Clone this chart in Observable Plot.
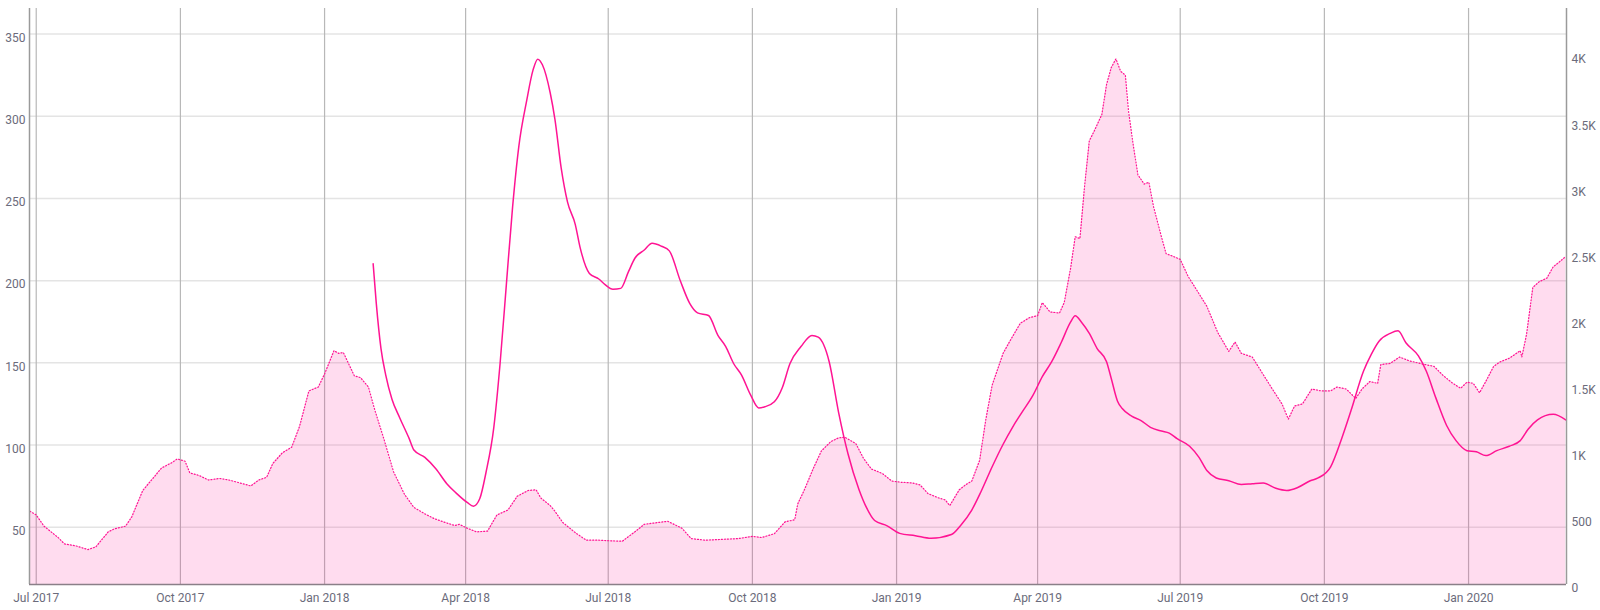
<!DOCTYPE html>
<html>
<head>
<meta charset="utf-8">
<script src="https://cdn.jsdelivr.net/npm/d3@7"></script>
<script src="https://cdn.jsdelivr.net/npm/@observablehq/plot@0.6"></script>
<style>
  html, body { margin: 0; padding: 0; background: #fff; }
  #chart svg { display: block; font-family: Roboto, "Noto Sans", sans-serif; }
</style>
</head>
<body>
<div id="chart"></div>
<script>
// Area series (right axis)
const areaDates = ["2017-06-27","2017-07-01","2017-07-06","2017-07-15","2017-07-19","2017-07-26","2017-08-03","2017-08-08","2017-08-16","2017-08-20","2017-08-27","2017-08-31","2017-09-07","2017-09-13","2017-09-19","2017-09-26","2017-09-29","2017-10-04","2017-10-07","2017-10-13","2017-10-19","2017-10-26","2017-11-01","2017-11-08","2017-11-15","2017-11-20","2017-11-25","2017-11-29","2017-12-05","2017-12-11","2017-12-16","2017-12-22","2017-12-28","2018-01-01","2018-01-07","2018-01-10","2018-01-13","2018-01-20","2018-01-24","2018-01-29","2018-02-02","2018-02-08","2018-02-14","2018-02-21","2018-02-27","2018-03-06","2018-03-12","2018-03-19","2018-03-25","2018-03-28","2018-04-02","2018-04-08","2018-04-15","2018-04-21","2018-04-28","2018-05-04","2018-05-11","2018-05-16","2018-05-19","2018-05-25","2018-05-28","2018-06-02","2018-06-10","2018-06-17","2018-06-25","2018-07-03","2018-07-10","2018-07-18","2018-07-24","2018-08-02","2018-08-08","2018-08-17","2018-08-23","2018-09-01","2018-09-11","2018-09-22","2018-10-01","2018-10-07","2018-10-15","2018-10-22","2018-10-28","2018-10-30","2018-11-03","2018-11-09","2018-11-14","2018-11-20","2018-11-25","2018-11-29","2018-12-06","2018-12-11","2018-12-16","2018-12-23","2018-12-29","2019-01-04","2019-01-11","2019-01-16","2019-01-21","2019-01-28","2019-02-01","2019-02-04","2019-02-10","2019-02-14","2019-02-18","2019-02-23","2019-02-27","2019-03-03","2019-03-10","2019-03-14","2019-03-21","2019-03-27","2019-04-01","2019-04-04","2019-04-09","2019-04-15","2019-04-18","2019-04-22","2019-04-25","2019-04-28","2019-05-01","2019-05-04","2019-05-07","2019-05-12","2019-05-15","2019-05-18","2019-05-21","2019-05-24","2019-05-27","2019-05-29","2019-06-01","2019-06-04","2019-06-08","2019-06-11","2019-06-14","2019-06-19","2019-06-22","2019-06-27","2019-07-01","2019-07-06","2019-07-12","2019-07-18","2019-07-25","2019-08-01","2019-08-05","2019-08-09","2019-08-16","2019-08-22","2019-08-28","2019-09-04","2019-09-08","2019-09-12","2019-09-17","2019-09-23","2019-09-29","2019-10-05","2019-10-09","2019-10-15","2019-10-21","2019-10-25","2019-10-30","2019-11-04","2019-11-06","2019-11-12","2019-11-18","2019-11-24","2019-12-01","2019-12-10","2019-12-16","2019-12-22","2019-12-27","2019-12-31","2020-01-04","2020-01-08","2020-01-12","2020-01-17","2020-01-21","2020-01-27","2020-02-03","2020-02-04","2020-02-07","2020-02-11","2020-02-15","2020-02-20","2020-02-24","2020-02-27","2020-03-03"];
const areaValues = [554,526,441,355,307,293,264,284,398,421,441,512,711,796,881,924,950,932,844,824,790,802,790,768,745,790,810,915,995,1038,1194,1464,1493,1592,1768,1748,1754,1578,1564,1493,1322,1095,853,682,583,534,498,469,446,455,426,398,404,526,563,668,711,716,654,597,554,469,392,335,335,330,327,398,455,469,478,426,347,335,341,347,364,355,384,475,489,611,711,881,1009,1080,1109,1114,1066,952,873,839,782,773,768,753,688,654,640,597,716,753,782,938,1251,1507,1748,1834,1976,2019,2033,2132,2061,2053,2132,2388,2630,2616,3014,3355,3426,3554,3781,3909,3975,3881,3852,3582,3326,3099,3028,3042,2857,2630,2502,2479,2459,2331,2218,2104,1905,1763,1834,1748,1720,1606,1493,1365,1251,1350,1365,1478,1464,1464,1493,1478,1407,1478,1535,1521,1663,1672,1720,1692,1672,1649,1578,1521,1484,1530,1521,1450,1535,1649,1683,1711,1768,1720,1891,2246,2289,2317,2402,2430,2480];

// Line series (left axis)
const lineDates = ["2018-02-01","2018-02-03","2018-02-06","2018-02-09","2018-02-13","2018-02-18","2018-02-24","2018-02-27","2018-03-06","2018-03-13","2018-03-20","2018-03-26","2018-04-02","2018-04-06","2018-04-10","2018-04-14","2018-04-19","2018-04-23","2018-04-27","2018-05-01","2018-05-05","2018-05-10","2018-05-14","2018-05-17","2018-05-20","2018-05-25","2018-05-28","2018-06-01","2018-06-05","2018-06-10","2018-06-13","2018-06-19","2018-06-25","2018-06-29","2018-07-04","2018-07-09","2018-07-14","2018-07-18","2018-07-24","2018-07-29","2018-08-04","2018-08-09","2018-08-16","2018-08-22","2018-08-27","2018-09-03","2018-09-09","2018-09-14","2018-09-19","2018-09-24","2018-09-30","2018-10-05","2018-10-09","2018-10-15","2018-10-20","2018-10-25","2018-11-01","2018-11-08","2018-11-12","2018-11-19","2018-11-25","2018-12-01","2018-12-08","2018-12-13","2018-12-18","2018-12-26","2019-01-03","2019-01-13","2019-01-23","2019-02-05","2019-02-11","2019-02-18","2019-02-24","2019-03-03","2019-03-10","2019-03-16","2019-03-22","2019-03-29","2019-04-04","2019-04-10","2019-04-16","2019-04-22","2019-04-25","2019-04-29","2019-05-04","2019-05-09","2019-05-15","2019-05-18","2019-05-22","2019-05-25","2019-05-31","2019-06-06","2019-06-12","2019-06-19","2019-06-24","2019-06-29","2019-07-07","2019-07-13","2019-07-18","2019-07-24","2019-08-01","2019-08-09","2019-08-16","2019-08-23","2019-08-31","2019-09-07","2019-09-14","2019-09-22","2019-09-27","2019-10-05","2019-10-12","2019-10-18","2019-10-26","2019-10-31","2019-11-05","2019-11-12","2019-11-17","2019-11-22","2019-11-30","2019-12-05","2019-12-11","2019-12-18","2019-12-24","2019-12-31","2020-01-06","2020-01-12","2020-01-19","2020-01-27","2020-02-03","2020-02-08","2020-02-14","2020-02-24","2020-03-03"];
const lineValues = [210.2,186.2,158.7,142.7,127.9,116.5,103.9,97.0,92.5,85.6,76.5,70.8,65.1,62.8,67.3,83.3,110.8,149.6,197.6,245.0,282.0,309.6,328.0,334.7,331.3,314.1,298.1,268.4,247.9,234.1,220.4,204.4,201.0,197.6,194.8,195.3,205.6,213.6,218.6,222.7,220.9,218.1,199.9,186.2,180.4,178.8,166.7,159.9,149.6,142.7,130.2,122.6,123.3,126.3,134.7,149.6,159.9,166.7,165.6,150.7,119.9,94.7,73.0,61.6,54.1,50.9,46.3,44.9,43.3,45.6,51.3,60.5,71.9,86.8,100.5,110.8,119.9,130.2,141.6,150.7,162.2,174.7,178.6,174.7,167.9,158.7,150.7,140.5,126.7,122.2,117.6,114.9,110.8,108.5,107.3,103.9,99.3,92.5,84.5,80.0,78.3,76.0,76.5,76.9,73.7,72.4,74.2,78.3,80.0,86.8,103.9,121.0,145.0,155.3,163.3,167.9,169.5,162.2,154.2,145.0,129.0,111.9,102.7,96.6,95.9,93.6,96.6,99.3,102.7,109.6,115.3,118.7,115.3];

const leftTicks = [50, 100, 150, 200, 250, 300, 350];
const rightTicks = [0, 500, 1000, 1500, 2000, 2500, 3000, 3500, 4000];
const rightLabels = ["0", "500", "1K", "1.5K", "2K", "2.5K", "3K", "3.5K", "4K"];

const leftDomain = [15.2, 365.5];
const rightDomain = [0, 4356];
const toLeft = d3.scaleLinear().domain(rightDomain).range(leftDomain);

const parse = d3.utcParse("%Y-%m-%d");
const areaData = areaDates.map((d, i) => ({date: parse(d), value: areaValues[i], y: toLeft(areaValues[i])}));
const lineData = lineDates.map((d, i) => ({date: parse(d), value: lineValues[i]}));

const pink = "#ff1493";
const xDomain = [new Date(Date.UTC(2017, 5, 26, 17)), new Date(Date.UTC(2020, 2, 3, 12))];
const quarterTicks = d3.utcMonth.every(3).range(new Date(Date.UTC(2017, 6, 1)), xDomain[1]);
const textColor = "#6b6b7b";

const chart = Plot.plot({
  width: 1600,
  height: 610,
  marginLeft: 29,
  marginRight: 34,
  marginTop: 8,
  marginBottom: 26,
  style: {fontFamily: "Roboto, 'Noto Sans', sans-serif", fontSize: "12px", background: "#fff"},
  x: {type: "utc", domain: xDomain},
  y: {domain: leftDomain},
  marks: [
    Plot.gridY(leftTicks, {stroke: "#e4e4e4", strokeOpacity: 1, strokeWidth: 1.5}),
    Plot.gridX(quarterTicks, {stroke: "#b8b8b8", strokeOpacity: 1, strokeWidth: 1.2}),
    Plot.areaY(areaData, {x: "date", y1: leftDomain[0], y2: "y", fill: pink, fillOpacity: 0.15}),
    Plot.lineY(areaData, {x: "date", y: "y", stroke: pink, strokeWidth: 1.2, strokeDasharray: "1,2"}),
    Plot.lineY(lineData, {x: "date", y: "value", stroke: pink, strokeWidth: 1.5, curve: "monotone-x"}),
    Plot.ruleX([xDomain[0], xDomain[1]], {stroke: "#9a9a9a", strokeWidth: 1.5}),
    Plot.ruleY([leftDomain[0]], {stroke: "#8a7f88", strokeWidth: 1.5}),
    Plot.axisY(leftTicks, {anchor: "left", tickSize: 0, tickPadding: 4, dy: 4, fill: textColor, fontSize: 12, label: null}),
    Plot.axisY(rightTicks.map(toLeft), {anchor: "right", tickSize: 0, tickPadding: 5, dy: 4, fill: textColor, fontSize: 12, label: null,
      tickFormat: (d) => rightLabels[rightTicks.indexOf(Math.round(toLeft.invert(d)))]}),
    Plot.axisX(quarterTicks, {tickSize: 0, tickPadding: 9, fill: textColor, fontSize: 12, label: null, tickFormat: d3.utcFormat("%b %Y")})
  ]
});
document.getElementById("chart").appendChild(chart);
</script>
</body>
</html>
